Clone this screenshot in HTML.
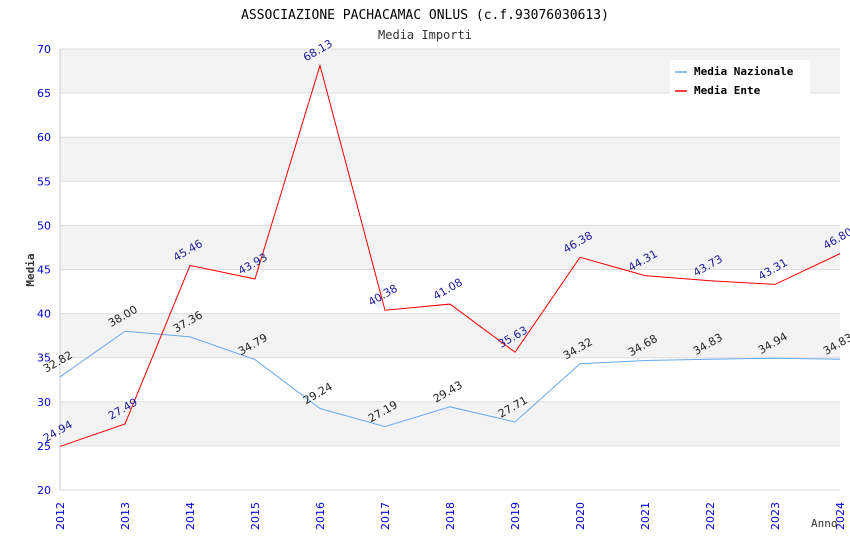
<!DOCTYPE html>
<html><head><meta charset="utf-8"><style>
body{margin:0;background:#fff;}
svg text{font-family:"DejaVu Sans","Liberation Sans",sans-serif;}
.mono{font-family:"DejaVu Sans Mono","Liberation Mono",monospace;}
</style></head><body>
<svg id="chart" width="850" height="550" xmlns="http://www.w3.org/2000/svg">
<text class="mono" x="425" y="19" text-anchor="middle" font-size="13" fill="#000">ASSOCIAZIONE PACHACAMAC ONLUS (c.f.93076030613)</text>
<text class="mono" x="425" y="39" text-anchor="middle" font-size="12" fill="#333">Media Importi</text>
<g id="bands"></g><g id="grid"></g><g id="axes"></g><g id="series"></g><g id="labels"></g>
<text class="mono" transform="translate(34,270) rotate(-90)" text-anchor="middle" font-size="11" font-weight="bold" fill="#333">Media</text>
<text class="mono" x="811" y="527" font-size="11" fill="#333">Anno</text>
<g>
<rect x="670" y="60" width="140" height="36" fill="#fff"/>
<line x1="675" y1="72" x2="687" y2="72" stroke="#66aaee" stroke-width="1.5"/>
<text class="mono" x="694" y="75" font-size="11" font-weight="bold">Media Nazionale</text>
<line x1="675" y1="91" x2="687" y2="91" stroke="#ff0000" stroke-width="1.5"/>
<text class="mono" x="694" y="94" font-size="11" font-weight="bold">Media Ente</text>
</g>
</svg>
<script>
const years=["2012","2013","2014","2015","2016","2017","2018","2019","2020","2021","2022","2023","2024"];
const nazionale=[32.82,38.00,37.36,34.79,29.24,27.19,29.43,27.71,34.32,34.68,34.83,34.94,34.83];
const ente=[24.94,27.49,45.46,43.93,68.13,40.38,41.08,35.63,46.38,44.31,43.73,43.31,46.80];
const yTicks=[20,25,30,35,40,45,50,55,60,65,70];
const NS="http://www.w3.org/2000/svg";
const L=60,R=840,T=49,B=490,yMin=20,yMax=70;
const xs=i=>L+i*(R-L)/(years.length-1);
const ys=v=>B-(v-yMin)/(yMax-yMin)*(B-T);
function mk(t,a,p){const e=document.createElementNS(NS,t);for(const k in a)e.setAttribute(k,a[k]);document.getElementById(p).appendChild(e);return e;}
for(let i=0;i<yTicks.length-1;i++){
  const a=yTicks[i],b=yTicks[i+1];
  const r=mk('rect',{x:L,y:ys(b),width:R-L,height:ys(a)-ys(b),fill:(i%2==1)?'#f3f3f3':'#fff'},'bands');
  
  
}
yTicks.forEach(v=>{
  const l=mk('line',{x1:L,x2:R,y1:ys(v),y2:ys(v),stroke:'#dddddd'},'grid');
  
  
  const t=mk('text',{x:L-9,y:ys(v)+4,'text-anchor':'end','font-size':11,fill:'#0000dd'},'axes');
  t.textContent=v;
  
  
});
const ax=mk('line',{x1:L,x2:L,y1:T,y2:B,stroke:'#cccccc'},'axes');


years.forEach((y,i)=>{
  const t=mk('text',{transform:`translate(${xs(i)+4},${B+40}) rotate(-90)`,'font-size':11,fill:'#0000dd'},'axes');
  t.textContent=y;
  
  
});
function series(data,color,lblColor,name){
  const p=mk('polyline',{points:data.map((v,i)=>xs(i)+','+ys(v)).join(' '),fill:'none',stroke:color,'stroke-width':1},'series');
  
  
  data.forEach((v,i)=>{
    const t=mk('text',{transform:`translate(${xs(i)-14},${ys(v)-4}) rotate(-30)`,'font-size':11,fill:lblColor},'labels');
    t.textContent=v.toFixed(2);
    
    
  });
}
series(nazionale,'#66aaee','#222','nazionale');
series(ente,'#ff0000','#1a1a99','ente');
</script>
</body></html>
